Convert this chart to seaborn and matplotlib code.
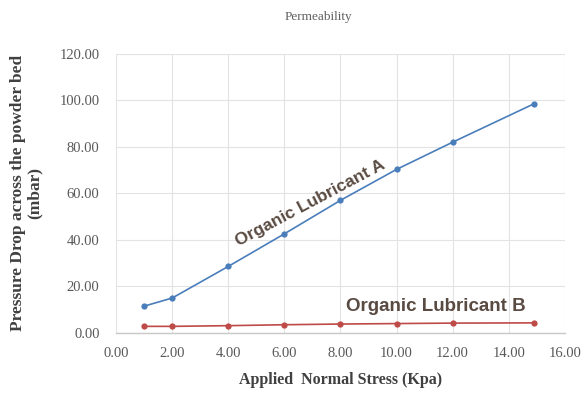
import matplotlib
matplotlib.use("Agg")
import matplotlib.pyplot as plt
import seaborn as sns
import pandas as pd

stress = [1.0, 2.0, 4.0, 6.0, 8.0, 10.0, 12.0, 14.9]
lub_a = [11.5, 15.0, 28.6, 42.6, 57.0, 70.3, 82.0, 98.5]
lub_b = [2.8, 2.8, 3.1, 3.5, 3.8, 4.0, 4.2, 4.3]
series_names = ["Organic Lubricant A", "Organic Lubricant B"]
x_ticks = [0, 2, 4, 6, 8, 10, 12, 14, 16]
y_ticks = [0, 20, 40, 60, 80, 100, 120]

df = pd.DataFrame({
    "stress": stress * 2,
    "dp": lub_a + lub_b,
    "series": [series_names[0]] * len(stress) + [series_names[1]] * len(stress),
})

sns.set_theme(style="white")
plt.rcParams["font.family"] = ["Liberation Serif", "DejaVu Serif"]

fig = plt.figure(figsize=(5.84, 3.93), dpi=100)
ax = fig.add_axes([0.199, 0.153, 0.768, 0.710])

palette = {series_names[0]: "#4a7ebb", series_names[1]: "#be4b48"}
sns.lineplot(data=df, x="stress", y="dp", hue="series", palette=palette,
             marker="o", markersize=4.5, markeredgewidth=0, linewidth=1.2,
             legend=False, ax=ax)

ax.set_xlim(0, 16)
ax.set_ylim(0, 120)
ax.set_xticks(x_ticks)
ax.set_yticks(y_ticks)
ax.set_xticklabels([f"{v:.2f}" for v in x_ticks], fontsize=10.5, color="#595959")
ax.set_yticklabels([f"{v:.2f}" for v in y_ticks], fontsize=10.5, color="#595959")
ax.tick_params(axis="x", length=0, pad=10)
ax.tick_params(axis="y", length=0, pad=12)
ax.grid(True, color="#e3e3e3", linewidth=0.8)
for s in ["left", "top", "right"]:
    ax.spines[s].set_visible(False)
ax.spines["bottom"].set_color("#c8c8c8")
ax.spines["bottom"].set_linewidth(1.0)

ax.set_xlabel("Applied  Normal Stress (Kpa)", fontsize=11.5, fontweight="bold",
              color="#404040", labelpad=9)
ax.set_ylabel("Pressure Drop across the powder bed\n(mbar)", fontsize=12.5,
              fontweight="bold", color="#404040", labelpad=12, linespacing=1.05)

fig.text(0.546, 0.957, "Permeability", fontsize=9.5, color="#606060",
         ha="center", va="center")

ax.text(6.93, 55.6, series_names[0], rotation=28, rotation_mode="anchor",
        ha="center", va="center", fontsize=12.6, fontweight="bold",
        color="#5a4b42", family=["Liberation Sans", "DejaVu Sans"])
ax.text(11.4, 11.3, series_names[1], ha="center", va="center", fontsize=13.5,
        fontweight="bold", color="#5a4b42", family=["Liberation Sans", "DejaVu Sans"])

fig.savefig("out.png", dpi=100)
